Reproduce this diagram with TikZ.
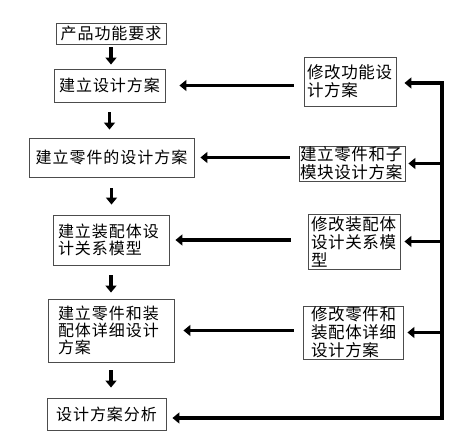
\documentclass[tikz,border=0pt]{standalone}
\usepackage{fontspec}
\newfontfamily\cjk[LetterSpace=6]{Noto Sans CJK SC}
\newfontfamily\cjkr[LetterSpace=4]{Noto Sans CJK SC}
\usetikzlibrary{arrows.meta}
\tikzset{
  box/.style={draw=black!70, line width=0.9pt, inner ysep=0pt, inner xsep=0pt,
    font=\cjk\fontsize{16}{17}\selectfont},
  rbox/.style={box, font=\cjkr\fontsize{16.5}{18}\selectfont},
  arr/.style={line width=3.6pt, -{Triangle[length=7pt,width=11pt]}},
  fb/.style={line width=3.6pt},
}
\begin{document}
\begin{tikzpicture}[x=1pt,y=-1pt]
\useasboundingbox[fill=white] (0,0) rectangle (463,435);
% left column
\node[box, minimum width=110pt, minimum height=21pt] (L1) at (111,33.5) {产品功能要求};
\node[box, minimum width=111pt, minimum height=33pt] (L2) at (109.5,85.5) {建立设计方案};
\node[box, minimum width=165pt, minimum height=39pt] (L3) at (111.5,157.5) {建立零件的设计方案};
\node[box, minimum height=50pt, inner xsep=5pt, text width=106pt, align=left] (L4) at (111,240) {建立装配体设\\计关系模型};
\node[box, minimum height=63pt, inner xsep=10pt, text width=106pt, align=left] (L5) at (111,330.5) {建立零件和装\\配体详细设计\\方案};
\node[box, minimum width=119pt, minimum height=32pt] (L6) at (106.5,414) {设计方案分析};
% right column
\node[rbox, minimum height=49pt, inner xsep=3pt, text width=86pt, align=left] (R1) at (350,81.5) {修改功能设\\计方案};
\node[rbox, minimum height=35pt, inner xsep=1pt, text width=104pt, align=left] (R2) at (352,163.5) {建立零件和子\\模块设计方案};
\node[rbox, minimum height=55pt, inner xsep=3pt, text width=86pt, align=left] (R3) at (354,241.5) {修改装配体\\设计关系模\\型};
\node[rbox, minimum height=53pt, inner xsep=8pt, text width=84pt, align=left] (R4) at (353,332.5) {修改零件和\\装配体详细\\设计方案};
% downward arrows
\draw[arr] ([yshift=-3pt]L1.south) -- ([yshift=4pt]L1.south |- L2.north);
\draw[arr] ([yshift=-10pt]L2.south) -- ([yshift=8pt]L2.south |- L3.north);
\draw[arr] ([yshift=-11pt]L3.south) -- ([yshift=10pt]L3.south |- L4.north);
\draw[arr] ([yshift=-10pt]L4.south) -- ([yshift=6pt]L4.south |- L5.north);
\draw[arr] ([yshift=-8pt]L5.south) -- ([yshift=10pt]L5.south |- L6.north);
% right-to-left arrows
\draw[arr] ([xshift=-10pt]R1.west |- L2.east) -- ([xshift=14pt]L2.east);
\draw[arr] ([xshift=-9pt]R2.west |- L3.east) -- ([xshift=6pt]L3.east);
\draw[arr] ([xshift=-17pt]R3.west |- L4.east) -- ([xshift=6pt]L4.east);
\draw[arr] ([xshift=-9pt]R4.west |- L5.east) -- ([xshift=9pt]L5.east);
% feedback loop
\coordinate (top) at (442,83);
\coordinate (bot) at (442,418);
\draw[fb, line cap=rect] (top) -- (bot);
\draw[arr] ([xshift=1.8pt]bot) -- ([xshift=6pt]L6.east |- bot);
\draw[arr] ([xshift=1.8pt]top) -- ([xshift=8pt]R1.east |- top);
\draw[arr] (top |- R2.east) -- ([xshift=3pt]R2.east);
\draw[arr] (top |- R3.east) -- ([xshift=4pt]R3.east);
\draw[arr] (top |- R4.east) -- ([xshift=4pt]R4.east);
\end{tikzpicture}
\end{document}
